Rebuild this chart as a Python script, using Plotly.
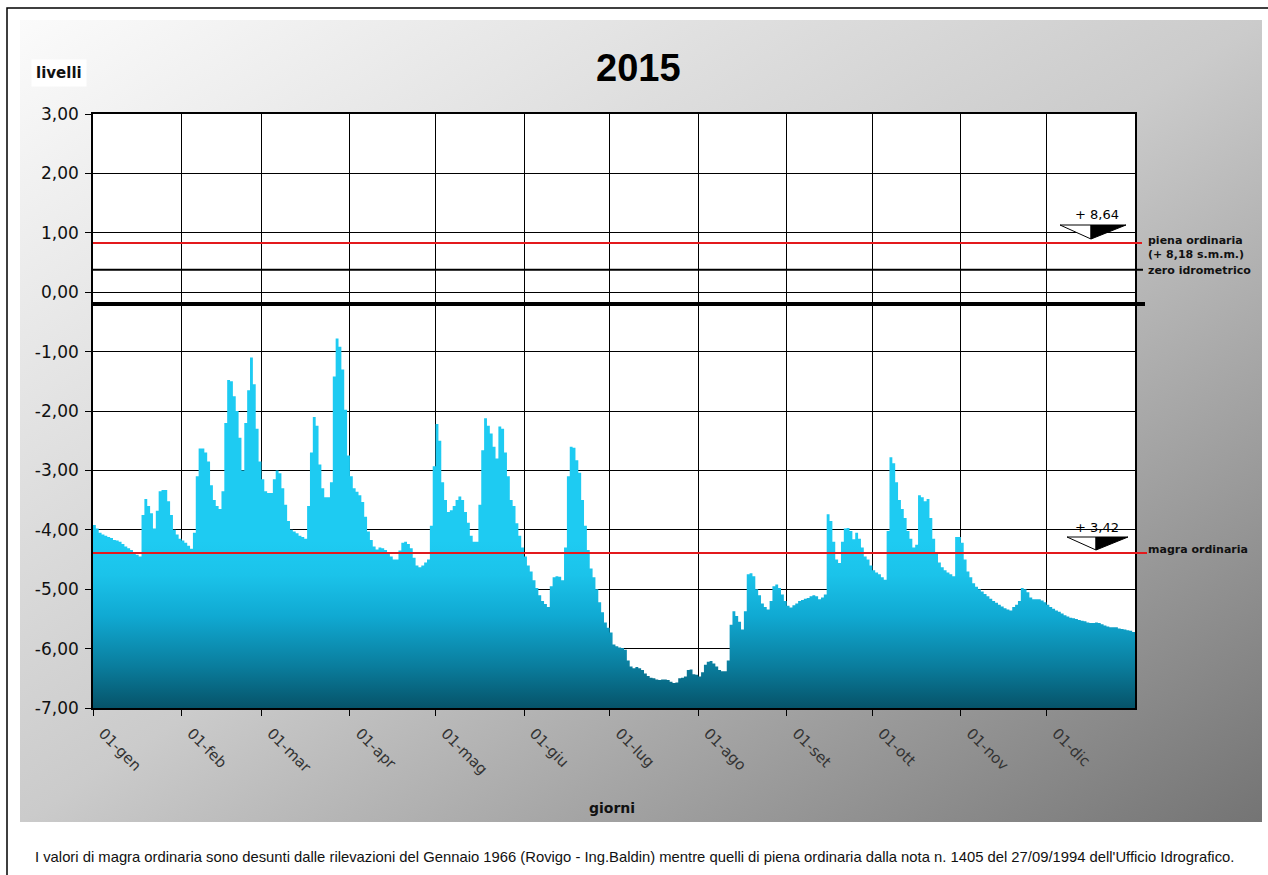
import base64
import pandas as pd
import plotly.graph_objects as go

# ---------------- data (daily levels, 2015) ----------------
JAN = [-3.92, -3.98, -4.05, -4.08, -4.10, -4.12, -4.14, -4.17, -4.18, -4.20,
       -4.24, -4.28, -4.31, -4.34, -4.38, -4.42, -4.45, -3.75, -3.48, -3.60,
       -3.72, -3.98, -3.68, -3.35, -3.33, -3.33, -3.52, -3.75, -4.00, -4.08, -4.15]
FEB = [-4.18, -4.22, -4.27, -4.32, -4.05, -3.10, -2.63, -2.63, -2.70, -2.85,
       -3.25, -3.50, -3.60, -3.65, -3.35, -2.20, -1.48, -1.50, -1.75, -2.00,
       -2.45, -3.00, -2.20, -1.65, -1.10, -1.55, -2.30, -2.85]
MAR = [-3.15, -3.35, -3.38, -3.38, -3.15, -3.00, -3.05, -3.30, -3.58, -3.85,
       -4.00, -4.03, -4.06, -4.10, -4.12, -4.15, -3.60, -2.70, -2.10, -2.25,
       -2.90, -3.30, -3.45, -3.45, -3.20, -1.42, -0.78, -0.92, -1.30, -1.98, -2.75]
APR = [-3.10, -3.30, -3.36, -3.42, -3.53, -3.78, -4.03, -4.17, -4.28, -4.33,
       -4.30, -4.31, -4.34, -4.40, -4.45, -4.50, -4.50, -4.35, -4.22, -4.20,
       -4.24, -4.31, -4.47, -4.60, -4.63, -4.60, -4.55, -4.50, -3.93, -2.93]
MAY = [-2.22, -2.50, -3.20, -3.50, -3.70, -3.67, -3.60, -3.50, -3.44, -3.50,
       -3.70, -3.88, -4.10, -4.20, -4.20, -3.58, -2.66, -2.12, -2.25, -2.38,
       -2.60, -2.80, -2.26, -2.30, -2.70, -3.10, -3.50, -3.60, -3.89, -4.10, -4.30]
JUN = [-4.45, -4.60, -4.70, -4.85, -4.98, -5.10, -5.20, -5.25, -5.30, -4.95,
       -4.80, -4.78, -4.79, -4.85, -4.30, -3.10, -2.60, -2.62, -2.83, -3.04,
       -3.50, -3.93, -4.34, -4.65, -4.80, -5.00, -5.22, -5.39, -5.56, -5.65]
JUL = [-5.73, -5.93, -5.96, -5.98, -5.99, -6.02, -6.20, -6.30, -6.33, -6.31,
       -6.33, -6.36, -6.42, -6.46, -6.49, -6.50, -6.52, -6.53, -6.52, -6.52,
       -6.53, -6.56, -6.58, -6.57, -6.50, -6.49, -6.47, -6.36, -6.35, -6.43, -6.44]
AUG = [-6.47, -6.40, -6.27, -6.22, -6.21, -6.25, -6.30, -6.36, -6.38, -6.38,
       -6.20, -5.60, -5.37, -5.45, -5.55, -5.68, -5.37, -4.75, -4.73, -4.78,
       -5.00, -5.10, -5.24, -5.30, -5.34, -5.20, -4.95, -4.92, -4.98, -5.09, -5.20]
SEP = [-5.28, -5.31, -5.27, -5.24, -5.20, -5.18, -5.16, -5.15, -5.12, -5.10,
       -5.12, -5.17, -5.14, -5.09, -3.74, -3.85, -4.20, -4.50, -4.56, -4.20,
       -3.98, -3.97, -4.02, -4.16, -4.05, -4.15, -4.30, -4.45, -4.50, -4.60]
OCT = [-4.68, -4.72, -4.75, -4.80, -4.84, -4.02, -2.78, -2.88, -3.20, -3.50,
       -3.65, -3.80, -4.02, -4.15, -4.30, -4.25, -3.42, -3.45, -3.52, -3.48,
       -3.80, -4.15, -4.38, -4.55, -4.63, -4.68, -4.72, -4.75, -4.78, -4.12, -4.12]
NOV = [-4.22, -4.50, -4.70, -4.80, -4.90, -4.96, -5.00, -5.04, -5.08, -5.12,
       -5.16, -5.20, -5.23, -5.26, -5.29, -5.32, -5.34, -5.36, -5.30, -5.26,
       -5.20, -4.98, -5.00, -5.05, -5.14, -5.17, -5.17, -5.17, -5.19, -5.22]
DEC = [-5.26, -5.30, -5.33, -5.36, -5.38, -5.41, -5.44, -5.46, -5.48, -5.49,
       -5.50, -5.52, -5.53, -5.54, -5.56, -5.57, -5.57, -5.56, -5.57, -5.59,
       -5.61, -5.63, -5.64, -5.64, -5.64, -5.66, -5.67, -5.68, -5.69, -5.70, -5.72]

MONTH_LABELS = ["01-gen", "01-feb", "01-mar", "01-apr", "01-mag", "01-giu",
                "01-lug", "01-ago", "01-set", "01-ott", "01-nov", "01-dic"]
Y_TICKS = [3, 2, 1, 0, -1, -2, -3, -4, -5, -6, -7]
Y_LABELS = ["3,00", "2,00", "1,00", "0,00", "-1,00", "-2,00", "-3,00",
            "-4,00", "-5,00", "-6,00", "-7,00"]

PIENA = 0.83        # piena ordinaria
ZERO_IDRO = 0.38    # zero idrometrico
SOGLIA = -0.20      # thick black line
MAGRA = -4.39       # magra ordinaria
Y_MIN, Y_MAX = -7, 3

LEVELS = JAN + FEB + MAR + APR + MAY + JUN + JUL + AUG + SEP + OCT + NOV + DEC
assert len(LEVELS) == 365

dates = pd.date_range("2015-01-01", periods=len(LEVELS) + 1, freq="D")
x_step = list(dates)
y_step = LEVELS + [LEVELS[-1]]
month_ticks = list(pd.date_range("2015-01-01", periods=12, freq="MS"))

# ---------------- figure ----------------
W, H = 1268, 875
L, R, T, B = 93, 133, 114, 167
PW, PH = W - L - R, H - T - B


def px(xp):
    return (xp - L) / PW


def py(yp):
    return (H - B - yp) / PH


fig = go.Figure()
fig.add_trace(go.Scatter(x=x_step, y=[Y_MIN] * len(x_step), mode="lines",
                         line=dict(width=0, shape="hv"), hoverinfo="skip",
                         showlegend=False))
fig.add_trace(go.Scatter(
    x=x_step, y=y_step, mode="lines", line=dict(width=0, shape="hv", color="#19c3eb"),
    fill="tonexty", fillcolor="#19c3eb",
    fillgradient=dict(type="vertical", start=-7, stop=-4.2,
                      colorscale=[[0, "#065369"], [0.25, "#0a7d9d"], [0.55, "#10a9d2"],
                                  [0.8, "#1bc3ea"], [1, "#1ecbf2"]]),
    showlegend=False, name="livelli"))

# gradient panel background (svg data uri)
svg = ('<svg xmlns="http://www.w3.org/2000/svg" width="100" height="100" '
       'viewBox="0 0 100 100" preserveAspectRatio="none"><defs>'
       '<linearGradient id="g" x1="0" y1="0" x2="1" y2="1">'
       '<stop offset="0" stop-color="#fbfbfb"/><stop offset="0.5" stop-color="#cbcbcb"/>'
       '<stop offset="1" stop-color="#747474"/></linearGradient></defs>'
       '<rect width="100" height="100" fill="url(#g)"/></svg>')
src = "data:image/svg+xml;base64," + base64.b64encode(svg.encode()).decode()
fig.add_layout_image(dict(source=src, xref="paper", yref="paper", x=px(20), y=py(20),
                          sizex=px(1262) - px(20), sizey=py(20) - py(822),
                          xanchor="left", yanchor="top", sizing="stretch", layer="below"))

shapes = []
# white plot area
shapes.append(dict(type="rect", xref="paper", yref="paper", x0=0, x1=1, y0=0, y1=1,
                   fillcolor="white", line=dict(width=0), layer="below"))
# outer border
shapes.append(dict(type="rect", xref="paper", yref="paper", x0=px(7), x1=px(1290),
                   y0=py(900), y1=py(8), line=dict(color="black", width=1.5),
                   fillcolor="rgba(0,0,0,0)", layer="below"))
# reference lines
shapes.append(dict(type="line", xref="paper", yref="y", x0=0, x1=px(1142), y0=PIENA, y1=PIENA,
                   line=dict(color="#e3191c", width=2)))
shapes.append(dict(type="line", xref="paper", yref="y", x0=0, x1=px(1143), y0=ZERO_IDRO,
                   y1=ZERO_IDRO, line=dict(color="black", width=2)))
shapes.append(dict(type="line", xref="paper", yref="y", x0=0, x1=px(1145), y0=SOGLIA, y1=SOGLIA,
                   line=dict(color="black", width=4)))
shapes.append(dict(type="line", xref="paper", yref="y", x0=0, x1=px(1147), y0=MAGRA, y1=MAGRA,
                   line=dict(color="#e3191c", width=2)))


def level_mark(x0p, xap, x1p, ytp, yap):
    a, m, b = px(x0p), px(xap), px(x1p)
    t, p = py(ytp), py(yap)
    return [
        dict(type="path", xref="paper", yref="paper",
             path=f"M {a},{t} L {m},{t} L {m},{p} Z",
             fillcolor="white", line=dict(color="black", width=1)),
        dict(type="path", xref="paper", yref="paper",
             path=f"M {m},{t} L {b},{t} L {m},{p} Z",
             fillcolor="black", line=dict(color="black", width=1)),
    ]


shapes += level_mark(1060, 1091, 1126, 225, 239)
shapes += level_mark(1067, 1096, 1128, 537, 550)


def note(text, xp, yp, size, family="DejaVu Sans", xanchor="center", **kw):
    return dict(text=text, x=px(xp), y=py(yp), xref="paper", yref="paper",
                xanchor=xanchor, yanchor="middle", showarrow=False,
                font=dict(family=family, size=size, color=kw.pop("color", "#111")), **kw)


ann = [
    note("<b>2015</b>", 638, 68, 38, family="Liberation Sans", color="black"),
    note("<b>livelli</b>", 59, 73, 15, bgcolor="white", borderpad=4),
    note("<b>giorni</b>", 612, 808, 14),
    note("I valori di magra ordinaria sono desunti dalle rilevazioni del Gennaio 1966 "
         "(Rovigo - Ing.Baldin) mentre quelli di piena ordinaria dalla nota n. 1405 "
         "del 27/09/1994 dell'Ufficio Idrografico.", 634, 857, 14.8,
         family="Liberation Sans"),
]
for txt, yy in [("piena ordinaria", 240), ("(+ 8,18 s.m.m.)", 255),
                ("zero idrometrico", 270), ("magra ordinaria", 549)]:
    ann.append(note(f"<b>{txt}</b>", 1146, yy, 11, xanchor="left"))
for txt, yy in [("+ 8,64", 214), ("+ 3,42", 527)]:
    ann.append(note(txt, 1097, yy, 13, color="black"))

fig.update_layout(
    width=W, height=H, autosize=False,
    margin=dict(l=L, r=R, t=T, b=B, pad=0),
    paper_bgcolor="white", plot_bgcolor="white",
    shapes=shapes, annotations=ann, showlegend=False, hovermode=False,
    xaxis=dict(type="date", range=[x_step[0], x_step[-1]], tickvals=month_ticks,
               ticktext=MONTH_LABELS, tickangle=45, showgrid=True, gridcolor="black",
               gridwidth=1.3, showline=True, linecolor="black", linewidth=1.5, mirror=True,
               ticks="outside", ticklen=6, tickcolor="black", ticklabelshift=10,
               ticklabelstandoff=3,
               tickfont=dict(family="DejaVu Sans", size=15, color="#333"), zeroline=False),
    yaxis=dict(range=[Y_MIN, Y_MAX], tickvals=Y_TICKS, ticktext=Y_LABELS, showgrid=True,
               gridcolor="black", gridwidth=1.3, showline=True, linecolor="black",
               linewidth=1.5, mirror=True, ticks="outside", ticklen=6, tickcolor="black",
               ticklabelstandoff=3,
               tickfont=dict(family="DejaVu Sans", size=17, color="#111"), zeroline=False),
)

fig.write_html("out.html", config={"displayModeBar": False},
               post_script="document.body.style.margin='0px';document.body.style.overflow='hidden';")
